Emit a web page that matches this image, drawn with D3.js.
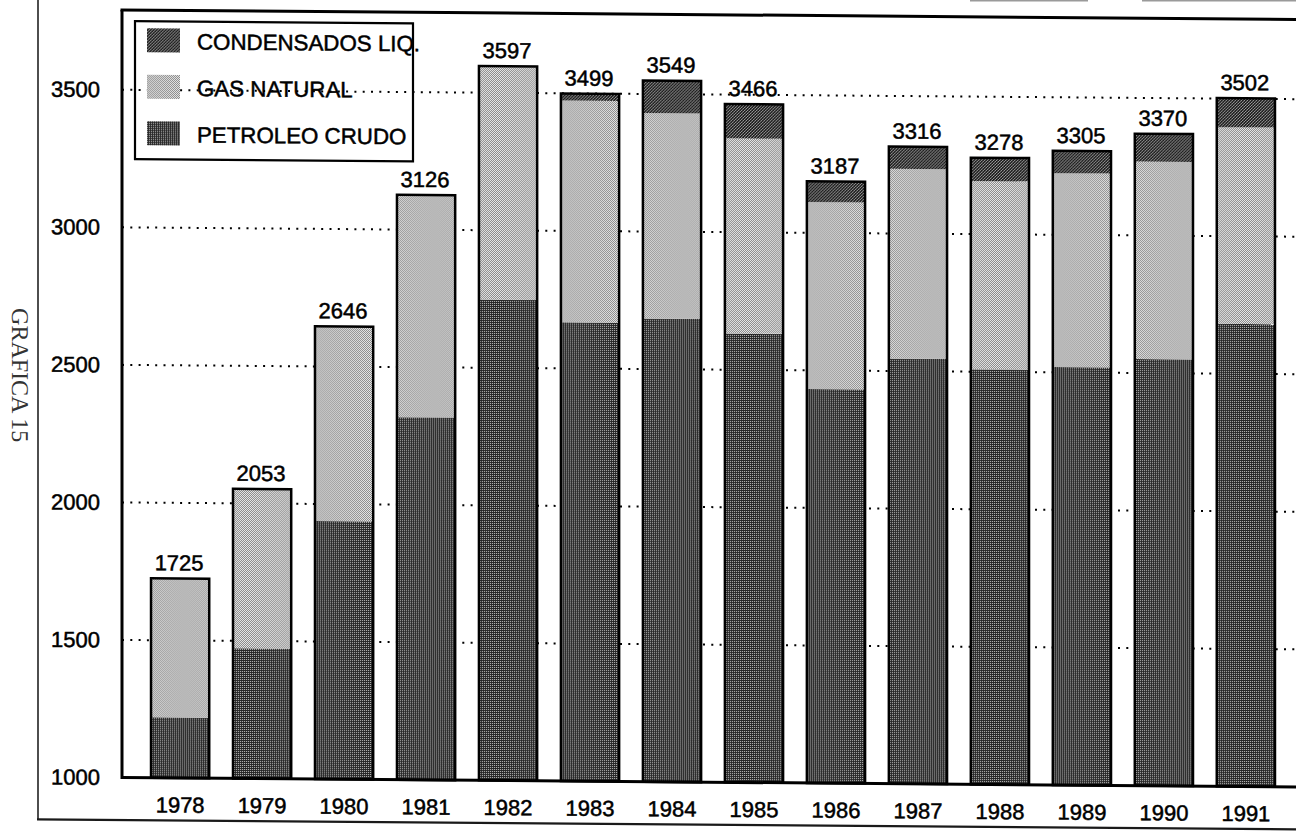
<!DOCTYPE html>
<html>
<head>
<meta charset="utf-8">
<script src="https://cdn.jsdelivr.net/npm/d3@7"></script>
<style>
  html, body { margin: 0; padding: 0; background: #ffffff; }
  svg { display: block; }
</style>
</head>
<body>
<svg id="chart" width="1296" height="833"></svg>
<script>
// ---- data ----
const years = ["1978","1979","1980","1981","1982","1983","1984","1985","1986","1987","1988","1989","1990","1991"];
const petroleoCrudo = [1220,1473,1938,2318,2748,2668,2684,2632,2432,2545,2509,2519,2551,2681];
const gasNatural    = [505, 580, 708, 808, 849, 806, 747, 709, 680, 690, 684, 705, 718, 715];
const condensados   = [0,   0,   0,   0,   0,   25,  118, 125, 75,  81,  85,  81,  101, 106];
const totals        = [1725,2053,2646,3126,3597,3499,3549,3466,3187,3316,3278,3305,3370,3502];
const yTicks = [1000,1500,2000,2500,3000,3500];
const gridTicks = [1500,2000,2500,3000,3500];
const seriesKeys = ["petroleo","gas","condensados"];
const legendLabels = ["CONDENSADOS LIQ.","GAS NATURAL","PETROLEO CRUDO"];
const legendKeys = ["condensados","gas","petroleo"];
const pageTitle = "GRAFICA 15";

// ---- layout ----
const W = 1296, H = 833;
const plotL = 122, plotT = 10, plotB = 777.5, plotR = 1304;
const svg = d3.select("#chart");
const font = "'Liberation Sans', Arial, Helvetica, sans-serif";
const fs = 22;

// patterns mimicking the scanned halftone fills
const defs = svg.append("defs");
function pat(id, size, base, dots, light) {
  const p = defs.append("pattern").attr("id", id).attr("patternUnits", "userSpaceOnUse")
    .attr("width", size).attr("height", size);
  p.append("rect").attr("width", size).attr("height", size).attr("fill", base);
  dots.forEach(([dx, dy]) => p.append("rect").attr("x", dx).attr("y", dy).attr("width", 1).attr("height", 1).attr("fill", light));
}
pat("p-petroleo", 2, "#242424", [[0,0]], "#c4c4c4");
pat("p-gas", 2, "#f6f6f6", [[0,0],[1,1]], "#7a7a7a");
pat("p-condensados", 3, "#1a1a1a", [[0,0],[2,1],[1,2]], "#a8a8a8");
const fills = {petroleo: "url(#p-petroleo)", gas: "url(#p-gas)", condensados: "url(#p-condensados)"};

// whole page is slightly skewed like the scan
const skew = Math.atan(0.008) * 180 / Math.PI;
const g = svg.append("g").attr("transform", `translate(${plotL},0) skewY(${skew}) translate(${-plotL},0)`);

// scales
const x = d3.scaleBand().domain(years).range([plotL, plotR]).paddingInner(0.29).paddingOuter(0.354);
const y = d3.scaleLinear().domain([1000, 3790]).range([plotB, plotT]).clamp(true);

// outer page frame
g.append("line").attr("x1", 38).attr("x2", 38).attr("y1", -5).attr("y2", 820)
  .attr("stroke", "#3a3a3a").attr("stroke-width", 1.8);
g.append("line").attr("x1", 37).attr("x2", W + 20).attr("y1", 820).attr("y2", 820)
  .attr("stroke", "#1a1a1a").attr("stroke-width", 2.2);

// side title
g.append("text").attr("transform", "translate(12,376) rotate(90)")
  .attr("text-anchor", "middle").attr("font-family", "'Liberation Serif', 'Times New Roman', serif")
  .attr("font-size", 24).attr("fill", "#333").text(pageTitle);

// dotted grid lines
g.append("g").selectAll("line").data(gridTicks).join("line")
  .attr("x1", plotL).attr("x2", W + 20)
  .attr("y1", d => y(d)).attr("y2", d => y(d))
  .attr("stroke", "#000").attr("stroke-width", 2).attr("stroke-dasharray", "2,6.3");

// stacked bars
const rows = years.map((yr, i) => ({year: yr, petroleo: petroleoCrudo[i], gas: gasNatural[i], condensados: condensados[i], total: totals[i]}));
const stack = d3.stack().keys(seriesKeys)(rows);
g.append("g").selectAll("g").data(stack).join("g")
  .attr("fill", s => fills[s.key])
  .selectAll("rect").data(s => s).join("rect")
  .attr("x", d => x(d.data.year))
  .attr("width", x.bandwidth())
  .attr("y", d => y(d[1]))
  .attr("height", d => Math.max(0, y(d[0]) - y(d[1])));

// bar outlines
g.append("g").selectAll("rect").data(rows).join("rect")
  .attr("x", d => x(d.year)).attr("width", x.bandwidth())
  .attr("y", d => y(d.total)).attr("height", d => y(1000) - y(d.total))
  .attr("fill", "none").attr("stroke", "#000").attr("stroke-width", 2.5);

// total labels
g.append("g").selectAll("text").data(rows).join("text")
  .attr("x", d => x(d.year) + x.bandwidth() / 2 - 1)
  .attr("y", d => y(d.total) - 8)
  .attr("text-anchor", "middle").attr("font-family", font).attr("font-size", fs)
  .attr("fill", "#000").attr("stroke", "#000").attr("stroke-width", 0.5)
  .text(d => d.total);

// plot frame (left, top)
g.append("line").attr("x1", plotL).attr("x2", plotL).attr("y1", plotT).attr("y2", plotB + 1.5)
  .attr("stroke", "#000").attr("stroke-width", 3);
g.append("line").attr("x1", plotL - 1.5).attr("x2", W + 20).attr("y1", plotT).attr("y2", plotT)
  .attr("stroke", "#000").attr("stroke-width", 3);

// axes
const yAxis = g.append("g").attr("transform", `translate(${plotL},0)`)
  .call(d3.axisLeft(y).tickValues(yTicks).tickSize(0).tickPadding(22).tickFormat(d3.format("d")));
yAxis.select(".domain").remove();
yAxis.selectAll("text").attr("font-family", font).attr("font-size", fs).attr("fill", "#000")
  .attr("stroke", "#000").attr("stroke-width", 0.5);

const xAxis = g.append("g").attr("transform", `translate(0,${plotB})`)
  .call(d3.axisBottom(x).tickSize(0).tickPadding(19));
xAxis.select(".domain").attr("d", `M${plotL},0H${W + 20}`).attr("stroke", "#000").attr("stroke-width", 3);
xAxis.selectAll("text").attr("font-family", font).attr("font-size", fs).attr("fill", "#000")
  .attr("stroke", "#000").attr("stroke-width", 0.5);

// legend (no fill: grid shows through)
const lg = g.append("g");
lg.append("rect").attr("x", 135).attr("y", 21).attr("width", 278).attr("height", 138)
  .attr("fill", "none").attr("stroke", "#000").attr("stroke-width", 2.2);
const li = lg.selectAll("g.item").data(legendKeys).join("g").attr("class", "item")
  .attr("transform", (d, i) => `translate(147,${28 + i * 46.5})`);
li.append("rect").attr("width", 33).attr("height", 24).attr("fill", d => fills[d]);
li.append("text").attr("x", 50).attr("y", 21).attr("font-family", font).attr("font-size", 22.3)
  .attr("fill", "#000").attr("stroke", "#000").attr("stroke-width", 0.5)
  .text((d, i) => legendLabels[i]);

// fragments of boxes cut off at the top edge of the scan
svg.append("line").attr("x1", 970).attr("x2", 1088).attr("y1", 0.5).attr("y2", 0.5).attr("stroke", "#9a9a9a").attr("stroke-width", 2);
svg.append("line").attr("x1", 1142).attr("x2", 1296).attr("y1", 0.5).attr("y2", 0.5).attr("stroke", "#9a9a9a").attr("stroke-width", 2);
</script>
</body>
</html>
